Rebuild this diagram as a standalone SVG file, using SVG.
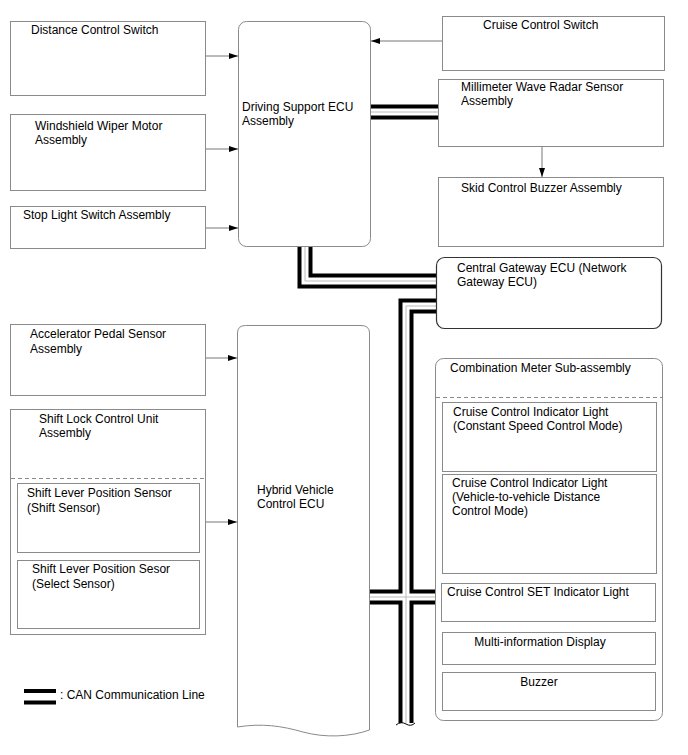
<svg xmlns="http://www.w3.org/2000/svg" width="688" height="755" viewBox="0 0 688 755">
<style>
text{font-family:"Liberation Sans",Arial,sans-serif;font-size:12px;fill:#000}
.box{fill:#fff;stroke:#8a8a8a;stroke-width:1}
.dash{stroke:#8a8a8a;stroke-width:1;stroke-dasharray:4,3;fill:none}
.arr{stroke:#777;stroke-width:1;fill:none;marker-end:url(#ah)}
.canb{stroke:#000;stroke-width:15;fill:none;stroke-linejoin:miter}
.canw{stroke:#fff;stroke-width:7;fill:none;stroke-linejoin:miter}
.cang{stroke:#bbb;stroke-width:1;fill:none}
.mid{text-anchor:middle}
</style>
<defs>
<marker id="ah" markerWidth="9" markerHeight="6" refX="9" refY="3" orient="auto" markerUnits="userSpaceOnUse">
<path d="M0,0 L9,3 L0,6 Z" fill="#000"/>
</marker>
</defs>
<g id="connectors">
<path class="arr" d="M205,56 H238"/>
<path class="arr" d="M205,149 H238"/>
<path class="arr" d="M205,228 H238"/>
<path class="arr" d="M442,41 H371"/>
<path class="arr" d="M542,146 V177"/>
<path class="arr" d="M205,358 H237"/>
<path class="arr" d="M205,522 H237"/>
<g id="can">
<path class="canb" d="M371,112 H438"/>
<path class="canb" d="M305,246 V281 H437"/>
<path class="canb" d="M437,306 H406 V723"/>
<path class="canb" d="M369,597 H437"/>
<path class="canw" d="M371,112 H438"/>
<path class="canw" d="M305,246 V281 H437"/>
<path class="canw" d="M437,306 H406 V724"/>
<path class="canw" d="M369,597 H437"/>
<path class="cang" d="M371,112 H438"/>
<path class="cang" d="M305,246 V281 H437"/>
<path class="cang" d="M437,306 H406 V723"/>
<path class="cang" d="M369,597 H437"/>
<path d="M396,725 Q401,721 406,724 Q411,727 415,723" fill="none" stroke="#000" stroke-width="1"/>
</g>
</g>
<g id="distance-control-switch"><rect class="box" x="10.5" y="21.5" width="195" height="74"/><text x="31" y="34">Distance Control Switch</text></g>
<g id="windshield-wiper"><rect class="box" x="10.5" y="114.5" width="195" height="76"/><text x="35" y="130">Windshield Wiper Motor</text><text x="35" y="144">Assembly</text></g>
<g id="stop-light-switch"><rect class="box" x="10.5" y="206.5" width="195" height="42"/><text x="23" y="219">Stop Light Switch Assembly</text></g>
<g id="driving-support-ecu"><rect class="box" x="238.5" y="21.5" width="132" height="225" rx="8"/><text x="242" y="111">Driving Support ECU</text><text x="242" y="125">Assembly</text></g>
<g id="cruise-control-switch"><rect class="box" x="442.5" y="16.5" width="222" height="54"/><text x="483" y="29">Cruise Control Switch</text></g>
<g id="millimeter-wave-radar"><rect class="box" x="438.5" y="79.5" width="225" height="67"/><text x="461" y="91">Millimeter Wave Radar Sensor</text><text x="461" y="105">Assembly</text></g>
<g id="skid-control-buzzer"><rect class="box" x="438.5" y="177.5" width="225" height="69"/><text x="461" y="192">Skid Control Buzzer Assembly</text></g>
<g id="central-gateway-ecu"><rect x="436.5" y="257.5" width="225" height="71" rx="8" fill="#fff" stroke="#333" stroke-width="1.2"/><text x="457" y="272">Central Gateway ECU (Network</text><text x="457" y="286">Gateway ECU)</text></g>
<g id="accelerator-pedal-sensor"><rect class="box" x="10.5" y="324.5" width="195" height="71"/><text x="30" y="338">Accelerator Pedal Sensor</text><text x="30" y="353">Assembly</text></g>
<g id="shift-lock-control-unit">
<rect class="box" x="10.5" y="409.5" width="195" height="225"/>
<text x="39" y="423">Shift Lock Control Unit</text><text x="39" y="437">Assembly</text>
<line class="dash" x1="11" y1="478.5" x2="205" y2="478.5"/>
<g id="shift-sensor"><rect class="box" x="17.5" y="483.5" width="182" height="69"/><text x="27" y="497">Shift Lever Position Sensor</text><text x="27" y="512">(Shift Sensor)</text></g>
<g id="select-sensor"><rect class="box" x="17.5" y="560.5" width="182" height="68"/><text x="32" y="573">Shift Lever Position Sesor</text><text x="32" y="588">(Select Sensor)</text></g>
</g>
<g id="hybrid-vehicle-control-ecu"><path class="box" d="M237.5,727 V333 Q237.5,325.5 245.5,325.5 H361 Q369.5,325.5 369.5,333 V730 C350,737 325,738 303,732 C282,726 262,723 237.5,727 Z"/><text x="257" y="494">Hybrid Vehicle</text><text x="257" y="508">Control ECU</text></g>
<g id="combination-meter">
<rect class="box" x="435.5" y="358.5" width="227" height="362" rx="8"/>
<text x="450" y="372">Combination Meter Sub-assembly</text>
<line class="dash" x1="436" y1="397.5" x2="662" y2="397.5"/>
<g id="cc-indicator-constant"><rect class="box" x="442.5" y="402.5" width="214" height="69"/><text x="453" y="416">Cruise Control Indicator Light</text><text x="453" y="430">(Constant Speed Control Mode)</text></g>
<g id="cc-indicator-distance"><rect class="box" x="442.5" y="474.5" width="214" height="99"/><text x="452" y="487">Cruise Control Indicator Light</text><text x="452" y="501">(Vehicle-to-vehicle Distance</text><text x="452" y="515">Control Mode)</text></g>
<g id="cc-set-indicator"><rect class="box" x="441.5" y="583.5" width="214" height="38"/><text x="447" y="596">Cruise Control SET Indicator Light</text></g>
<g id="multi-information-display"><rect class="box" x="442.5" y="632.5" width="213" height="32"/><text class="mid" x="540" y="646">Multi-information Display</text></g>
<g id="buzzer"><rect class="box" x="442.5" y="672.5" width="213" height="38"/><text class="mid" x="539" y="686">Buzzer</text></g>
</g>
<g id="legend">
<rect x="24" y="689" width="32" height="4" fill="#000"/>
<rect x="24" y="700.5" width="32" height="4" fill="#000"/>
<text x="60" y="699">: CAN Communication Line</text>
</g>
</svg>
